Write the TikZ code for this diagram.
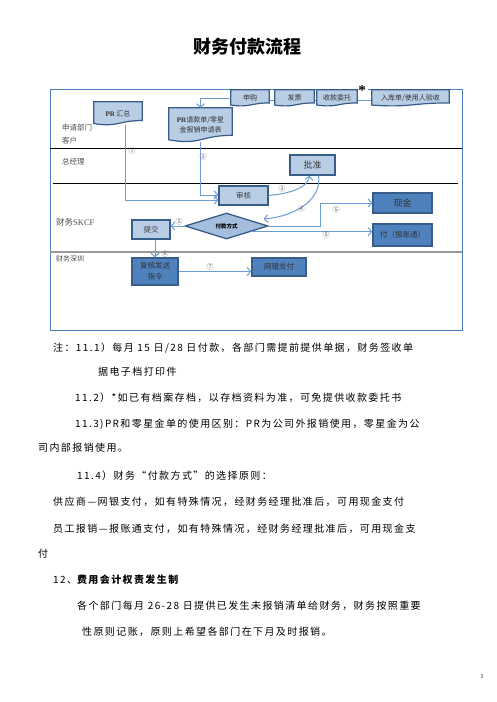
\documentclass[tikz,border=0pt]{standalone}
\usepackage{fontspec}
\setmainfont{Liberation Serif}
\newfontfamily\cjk{Noto Sans CJK SC}
\newfontfamily\cjkt{Noto Sans CJK SC}[LetterSpace=14]
\usetikzlibrary{shapes.geometric,calc,backgrounds,arrows.meta}
\definecolor{lightfill}{HTML}{B9CDE5}
\definecolor{diafill}{HTML}{A5BEDD}
\definecolor{darkb}{HTML}{385D8A}
\definecolor{midb}{HTML}{4F81BD}
\definecolor{connc}{HTML}{6D9BD6}
\definecolor{framec}{HTML}{4A7EC0}
\newcommand{\docshape}[6]{%
  \node[docn, minimum width={#4-#2}, minimum height={#5-#3}] (#1) at ({(#2+#4)/2},{(#3+#5)/2}) {#6};
  \begin{scope}[on background layer]
  \path[docpath] (#1.north west) -- (#1.north east) -- ($(#1.north east)!0.8!(#1.south east)$)
    .. controls ($(#1.north)!0.8!(#1.south)$) and ($(#1.north)!1.1!(#1.south)$) .. ($(#1.north west)!0.93!(#1.south west)$) -- cycle;
  \end{scope}}
\begin{document}
\begin{tikzpicture}[x=1pt,y=-1pt,
  lightbox/.style={draw=darkb, fill=lightfill, line width=1.3pt, inner sep=0pt, font=\cjk\fontsize{7.5}{9}\selectfont, text=black!75},
  darkbox/.style={draw=darkb, fill=midb, line width=1.3pt, inner sep=0pt, align=center, font=\cjk\fontsize{7.5}{11}\selectfont, text=black!80},
  docn/.style={inner sep=0pt, align=center, font=\cjk\fontsize{7}{10}\selectfont, text=black!80},
  docpath/.style={draw=darkb, fill=lightfill, line width=1.2pt},
  connl/.style={draw=connc, line width=1pt},
  arr/.style={connl, -{Straight Barb[length=3.5pt,width=8pt]}},
  num/.style={font=\cjk\fontsize{7}{8}\selectfont, text=black!60, inner sep=0pt},
  lanelab/.style={font=\cjk\fontsize{7.5}{9}\selectfont, text=black!70, anchor=west, inner sep=0pt},
  note/.style={font=\cjkt\fontsize{10}{12}\selectfont, anchor=west, inner sep=0pt}
]
\path[use as bounding box] (0,0) rectangle (496,702);

% title
\node[font=\cjk\bfseries\fontsize{18}{20}\selectfont] (title) at (247,47) {财务付款流程};

% frame and lanes (background)
\begin{scope}[on background layer]
  \draw[framec, line width=1pt] (355,89) -- (50,89) -- (50,330) -- (462,330) -- (462,89) -- (368,89);
  \draw[black, line width=0.9pt] (50,148) -- (462,148);
  \draw[black, line width=0.9pt] (53,183) -- (458,183);
  \draw[black!40, line width=1.3pt] (50,252) -- (462,252);
  \draw[connl] (250,100) -- (410,100);
\end{scope}
\node[font=\fontsize{15}{15}\selectfont\bfseries, inner sep=0pt] (star) at (362,91) {*};

% lane labels
\node[lanelab] (lA) at (62,128) {申请部门};
\node[lanelab] (lB) at (62,141) {客户};
\node[lanelab] (lC) at (62,162) {总经理};
\node[lanelab, font=\cjk\fontsize{8.5}{9}\selectfont] (lD) at (56,222) {财务{\rmfamily SKCF}};
\node[lanelab, font=\cjk\fontsize{7}{9}\selectfont] (lE) at (56,259) {财务深圳};

% document shapes
\docshape{pr1}{94}{102}{142}{125}{{\rmfamily\bfseries PR} 汇总}
\docshape{pr2}{169}{108}{232}{142}{{\rmfamily\bfseries PR}请款单/零星\\金报销申请表}
\docshape{d1}{231}{90}{269}{106}{申购}
\docshape{d2}{275}{90}{314}{106}{发票}
\docshape{d3}{317}{90}{357}{106}{收款委托}
\docshape{d4}{372}{90}{449}{106}{入库单/使用人验收}

% boxes
\node[lightbox, minimum width=45pt, minimum height=20pt, font=\cjk\fontsize{9}{10}\selectfont] (pizhun) at (312.5,165) {批准};
\node[lightbox, minimum width=49pt, minimum height=19pt] (shenhe) at (243.5,195.5) {审核};
\node[diamond, draw=darkb, fill=diafill, line width=1.3pt, aspect=3.2, inner sep=0pt, minimum width=83pt, minimum height=26pt, font=\cjk\bfseries\fontsize{5.5}{6}\selectfont] (fkfs) at (226.5,226) {付款方式};
\node[lightbox, minimum width=38pt, minimum height=19pt] (tijiao) at (151,229.5) {提交};
\node[darkbox, minimum width=59pt, minimum height=20pt, font=\cjk\fontsize{9}{10}\selectfont] (xianjin) at (402.5,203) {现金};
\node[darkbox, minimum width=59pt, minimum height=22pt] (fu) at (402.5,235) {付（报账通）};
\node[darkbox, minimum width=46pt, minimum height=27pt] (fuhe) at (155,271.5) {复核发送\\指令};
\node[darkbox, minimum width=54pt, minimum height=18pt] (wangyin) at (279,267) {网银支付};

% connectors
\draw[arr] (d1.west) -| (pr2.north);
\draw[arr] ([xshift=7pt]pr1.south) |- ([yshift=-4.5pt]shenhe.west);
\draw[arr] (pr2.south) |- ([yshift=0.5pt]shenhe.west);
\draw[arr] (shenhe.east) .. controls (295,193) and (308,186) .. ([xshift=-3pt]pizhun.south);
\coordinate (c4) at ($(fkfs.east)+(-5,-7)$);
\draw[arr] ([xshift=6pt]pizhun.south) .. controls (322,198) and (298,216) .. (c4);
\draw[arr] (fkfs.east) -- ++(52,0) |- (xianjin.west);
\coordinate (c5) at ($(fkfs.east)!0.42!(fkfs.south)$);
\draw[arr] (c5) -- (c5 -| fu.west);
\draw[arr] (fkfs.west) -- (fkfs.west -| tijiao.east);
\draw[arr] (tijiao.south -| fuhe.north) -- (fuhe.north);
\draw[arr] (fuhe.east) -- (fuhe.east -| wangyin.west);

% step numbers
\node[num] (n1) at (132,151) {①};
\node[num] (n2) at (203,157) {②};
\node[num] (n3) at (282,189) {③};
\node[num] (n4) at (301,209) {④};
\node[num] (n5a) at (336,210) {⑤};
\node[num] (n5b) at (326,235) {⑤};
\node[num] (n5c) at (179,222) {⑤};
\node[num] (n6) at (165,254) {⑥};
\node[num] (n7) at (210,267) {⑦};

% notes
\node[note] (t1) at (53,348) {注：11.1）每月 15 日/28 日付款，各部门需提前提供单据，财务签收单};
\node[note] (t2) at (98,372) {据电子档打印件};
\node[note] (t3) at (75,398) {11.2）*如已有档案存档，以存档资料为准，可免提供收款委托书};
\node[note] (t4) at (75,424) {11.3)PR和零星金单的使用区别：PR为公司外报销使用，零星金为公};
\node[note] (t5) at (38,448) {司内部报销使用。};
\node[note] (t6) at (77,476) {11.4）财务“付款方式”的选择原则：};
\node[note] (t7) at (53,502) {供应商—网银支付，如有特殊情况，经财务经理批准后，可用现金支付};
\node[note] (t8) at (53,529) {员工报销—报账通支付，如有特殊情况，经财务经理批准后，可用现金支};
\node[note] (t9) at (38,554) {付};
\node[note] (t10) at (53,580) {12、{\bfseries 费用会计权责发生制}};
\node[note] (t11) at (77,606) {各个部门每月 26-28 日提供已发生未报销清单给财务，财务按照重要};
\node[note] (t12) at (82,632) {性原则记账，原则上希望各部门在下月及时报销。};
\node[font=\fontsize{6}{6}\selectfont, inner sep=0pt] (pg) at (482,677) {1};
\end{tikzpicture}
\end{document}
